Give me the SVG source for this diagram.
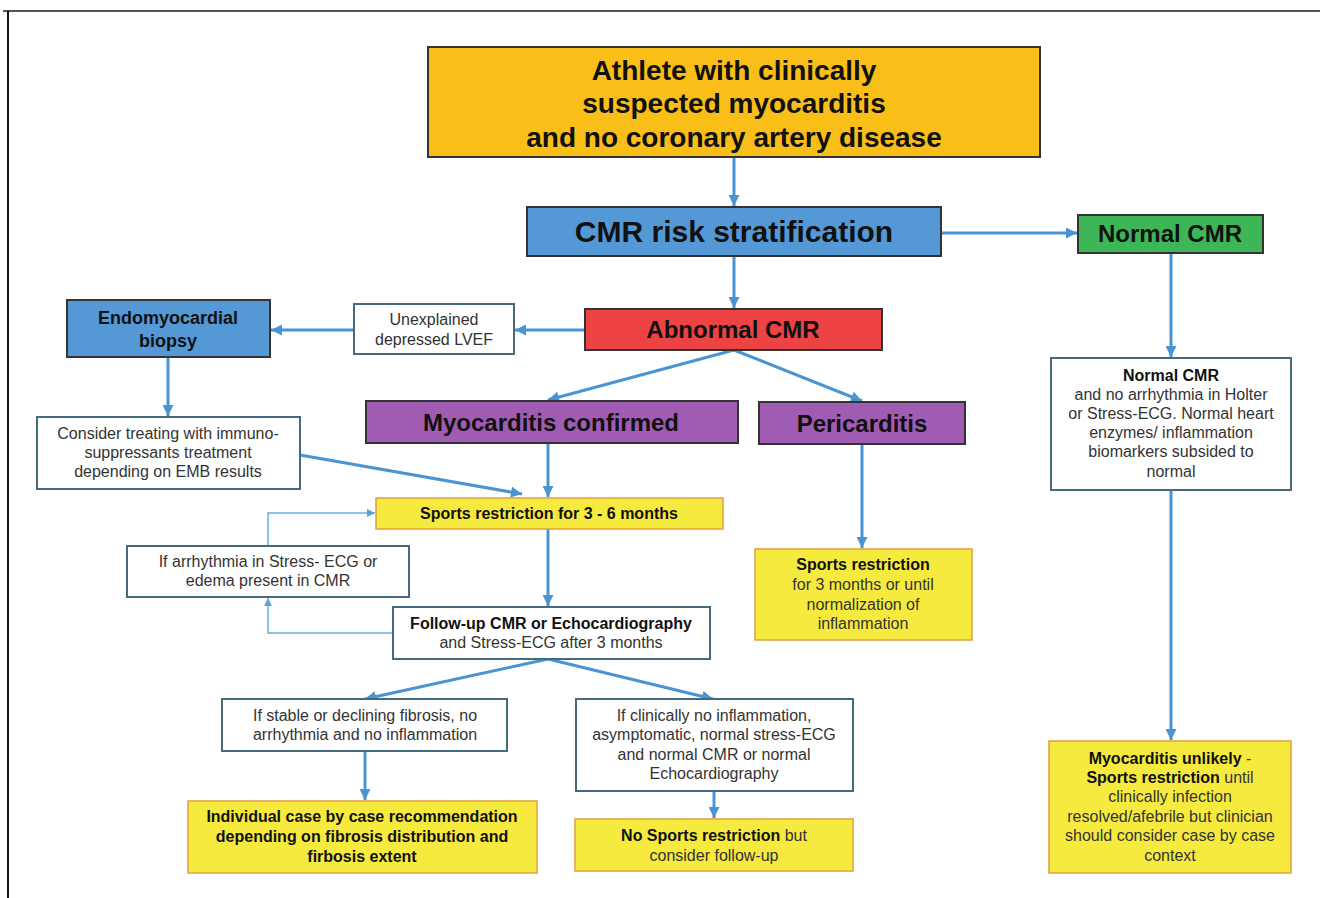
<svg xmlns="http://www.w3.org/2000/svg" width="1320" height="898" viewBox="0 0 1320 898">
<defs>
<marker id="ah" viewBox="0 0 10 10" refX="10" refY="5" markerWidth="13" markerHeight="11" markerUnits="userSpaceOnUse" orient="auto"><path d="M0,0 L10,5 L0,10 z" fill="#4A94D4"/></marker>
<marker id="ahs" viewBox="0 0 10 10" refX="10" refY="5" markerWidth="9" markerHeight="8" markerUnits="userSpaceOnUse" orient="auto"><path d="M0,0 L10,5 L0,10 z" fill="#5AA2DC"/></marker>
<style>
text{font-family:"Liberation Sans",Arial,sans-serif;text-anchor:middle;fill:#333}
.b{font-weight:bold;fill:#111}
.big{font-size:28px}
.mid{font-size:24px}
.sm{font-size:16px}
.bx{stroke:#333;stroke-width:2}
.wb{fill:#fff;stroke:#46697E;stroke-width:2}
.yb{fill:#F6EA3E;stroke:#E0A03C;stroke-width:1.5}
.c line,.c path{stroke:#4A94D4;stroke-width:3;fill:none;marker-end:url(#ah)}
.c .thin{stroke:#6AAEE0;stroke-width:1.5;marker-end:url(#ahs)}
.c .nm{marker-end:none}
</style>
</defs>
<rect x="0" y="0" width="1320" height="898" fill="#fff"/>
<line x1="3" y1="11" x2="1320" y2="11" stroke="#555" stroke-width="2"/>
<line x1="8" y1="11" x2="8" y2="898" stroke="#111" stroke-width="2"/>

<g class="c" id="connectors">
<line x1="734" y1="157" x2="734" y2="206"/>
<line x1="941" y1="233" x2="1077" y2="233"/>
<line x1="734" y1="256" x2="734" y2="308"/>
<line x1="585" y1="330" x2="515" y2="330"/>
<line x1="354" y1="330" x2="271" y2="330"/>
<line x1="168" y1="357" x2="168" y2="416"/>
<line x1="300" y1="455" x2="522" y2="494"/>
<line x1="734" y1="350" x2="548" y2="400"/>
<line x1="734" y1="350" x2="862" y2="401"/>
<line x1="548" y1="443" x2="548" y2="497"/>
<line x1="862" y1="444" x2="862" y2="548"/>
<line x1="548" y1="529" x2="548" y2="606"/>
<path class="thin" d="M393,633 L268,633 L268,598"/>
<path class="thin" d="M268,546 L268,513 L375,513"/>
<line x1="548" y1="659" x2="365" y2="699"/>
<line x1="548" y1="659" x2="713" y2="699"/>
<line x1="365" y1="751" x2="365" y2="800"/>
<line x1="714" y1="791" x2="714" y2="818"/>
<line x1="1171" y1="253" x2="1171" y2="357"/>
<line x1="1171" y1="490" x2="1171" y2="740"/>
</g>

<g id="n-athlete">
<rect x="428" y="47" width="612" height="110" fill="#F9BE17" class="bx"/>
<text class="b big" x="734" y="80">Athlete with clinically</text>
<text class="b big" x="734" y="113">suspected myocarditis</text>
<text class="b big" x="734" y="147">and no coronary artery disease</text>
</g>

<g id="n-cmr">
<rect x="527" y="207" width="414" height="49" fill="#5499D6" class="bx"/>
<text class="b" x="734" y="242" style="font-size:30px">CMR risk stratification</text>
</g>

<g id="n-normal">
<rect x="1078" y="215" width="185" height="38" fill="#3DB658" class="bx"/>
<text class="b mid" x="1170" y="242">Normal CMR</text>
</g>

<g id="n-abnormal">
<rect x="585" y="309" width="297" height="41" fill="#EE4343" class="bx"/>
<text class="b mid" x="733" y="338">Abnormal CMR</text>
</g>

<g id="n-lvef">
<rect x="354" y="304" width="160" height="50" class="wb"/>
<text class="sm" x="434" y="325">Unexplained</text>
<text class="sm" x="434" y="345">depressed LVEF</text>
</g>

<g id="n-emb">
<rect x="67" y="300" width="203" height="57" fill="#5499D6" class="bx"/>
<text class="b" x="168" y="324" style="font-size:18px">Endomyocardial</text>
<text class="b" x="168" y="347" style="font-size:18px">biopsy</text>
</g>

<g id="n-consider">
<rect x="37" y="417" width="263" height="72" class="wb"/>
<text class="sm" x="168" y="439">Consider treating with immuno-</text>
<text class="sm" x="168" y="458">suppressants treatment</text>
<text class="sm" x="168" y="477">depending on EMB results</text>
</g>

<g id="n-myo">
<rect x="366" y="401" width="372" height="42" fill="#A05CB2" class="bx"/>
<text class="b mid" x="551" y="431">Myocarditis confirmed</text>
</g>

<g id="n-peri">
<rect x="759" y="402" width="206" height="42" fill="#A05CB2" class="bx"/>
<text class="b mid" x="862" y="432">Pericarditis</text>
</g>

<g id="n-sports36">
<rect x="376" y="498" width="347" height="31" class="yb"/>
<text class="b sm" x="549" y="519">Sports restriction for 3 - 6 months</text>
</g>

<g id="n-arrhythmia">
<rect x="127" y="546" width="282" height="51" class="wb"/>
<text class="sm" x="268" y="567">If arrhythmia in Stress- ECG or</text>
<text class="sm" x="268" y="586">edema present in CMR</text>
</g>

<g id="n-followup">
<rect x="393" y="607" width="317" height="52" class="wb"/>
<text class="b sm" x="551" y="629">Follow-up CMR or Echocardiography</text>
<text class="sm" x="551" y="648">and Stress-ECG after 3 months</text>
</g>

<g id="n-perisports">
<rect x="755" y="549" width="217" height="91" class="yb"/>
<text class="b sm" x="863" y="570">Sports restriction</text>
<text class="sm" x="863" y="590">for 3 months or until</text>
<text class="sm" x="863" y="610">normalization of</text>
<text class="sm" x="863" y="629">inflammation</text>
</g>

<g id="n-stable">
<rect x="222" y="699" width="285" height="52" class="wb"/>
<text class="sm" x="365" y="721">If stable or declining fibrosis, no</text>
<text class="sm" x="365" y="740">arrhythmia and no inflammation</text>
</g>

<g id="n-clin">
<rect x="576" y="699" width="277" height="92" class="wb"/>
<text class="sm" x="714" y="721">If clinically no inflammation,</text>
<text class="sm" x="714" y="740">asymptomatic, normal stress-ECG</text>
<text class="sm" x="714" y="760">and normal CMR or normal</text>
<text class="sm" x="714" y="779">Echocardiography</text>
</g>

<g id="n-individual">
<rect x="188" y="801" width="349" height="72" class="yb"/>
<text class="b sm" x="362" y="822">Individual case by case recommendation</text>
<text class="b sm" x="362" y="842">depending on fibrosis distribution and</text>
<text class="b sm" x="362" y="862">firbosis extent</text>
</g>

<g id="n-nosports">
<rect x="575" y="819" width="278" height="52" class="yb"/>
<text class="sm" x="714" y="841"><tspan class="b">No Sports restriction</tspan> but</text>
<text class="sm" x="714" y="861">consider follow-up</text>
</g>

<g id="n-normalbox">
<rect x="1051" y="358" width="240" height="132" class="wb"/>
<text class="b sm" x="1171" y="381">Normal CMR</text>
<text class="sm" x="1171" y="400">and no arrhythmia in Holter</text>
<text class="sm" x="1171" y="419">or Stress-ECG. Normal heart</text>
<text class="sm" x="1171" y="438">enzymes/ inflammation</text>
<text class="sm" x="1171" y="457">biomarkers subsided to</text>
<text class="sm" x="1171" y="477">normal</text>
</g>

<g id="n-unlikely">
<rect x="1049" y="741" width="242" height="132" class="yb"/>
<text class="sm" x="1170" y="764"><tspan class="b">Myocarditis unlikely</tspan> -</text>
<text class="sm" x="1170" y="783"><tspan class="b">Sports restriction</tspan> until</text>
<text class="sm" x="1170" y="802">clinically infection</text>
<text class="sm" x="1170" y="822">resolved/afebrile but clinician</text>
<text class="sm" x="1170" y="841">should consider case by case</text>
<text class="sm" x="1170" y="861">context</text>
</g>
</svg>
